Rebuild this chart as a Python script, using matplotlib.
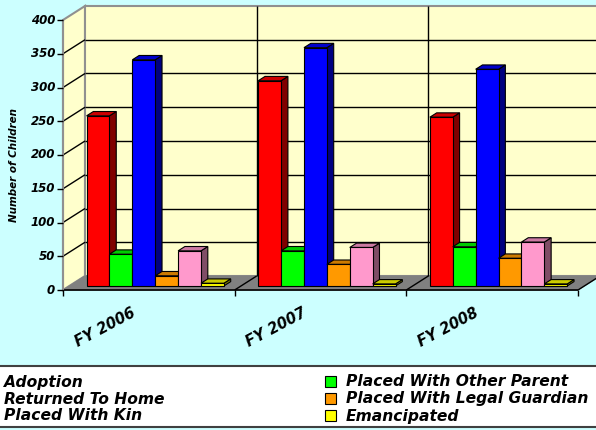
import numpy as np
import matplotlib
matplotlib.use("Agg")
import matplotlib.pyplot as plt
from matplotlib.patches import Polygon, Rectangle

# data
years = ["FY 2006", "FY 2007", "FY 2008"]
series = ["Adoption", "Placed With Other Parent", "Returned To Home",
          "Placed With Legal Guardian", "Placed With Kin", "Emancipated"]
adoption = [252, 304, 250]
other_parent = [47, 52, 58]
returned_home = [335, 353, 321]
legal_guardian = [15, 32, 41]
kin = [52, 57, 65]
emancipated = [4, 3, 3]
colors = ["#FF0000", "#00FF00", "#0000FF", "#FF9900", "#FF99CC", "#FFFF00"]
yticks = [0, 50, 100, 150, 200, 250, 300, 350, 400]

values = [adoption, other_parent, returned_home, legal_guardian, kin, emancipated]

W, H = 596, 430
fig = plt.figure(figsize=(W / 100, H / 100), dpi=100)
fig.patch.set_facecolor("#CCFFFF")

# front plane of the 3D box, in pixels: x 63..578, y 290..20
ax = fig.add_axes([63 / W, 140 / H, 515 / W, 270 / H])
ax.set_xlim(0, 3)
ax.set_ylim(0, 400)
ax.axis("off")

px_x = 515 / 3.0      # pixels per category
px_y = 270 / 400.0    # pixels per unit
DX = 22 / px_x        # depth offset
DY = 14 / px_y


def proj(x, v, d):
    return (x + d * DX, v + d * DY)


def poly(pts, fc, ec="black", lw=0.8, z=1):
    ax.add_patch(Polygon(pts, closed=True, facecolor=fc, edgecolor=ec,
                         linewidth=lw, clip_on=False, zorder=z))


def line(p, q, c="black", lw=1.0, z=2):
    ax.plot([p[0], q[0]], [p[1], q[1]], color=c, lw=lw, clip_on=False,
            zorder=z, solid_capstyle="butt")


top = yticks[-1]
# walls and floor
poly([proj(0, 0, 0), proj(0, top, 0), proj(0, top, 1), proj(0, 0, 1)],
     "#FFFFCC", ec="#909090", lw=1.5, z=1)
poly([proj(0, 0, 1), proj(3, 0, 1), proj(3, top, 1), proj(0, top, 1)],
     "#FFFFCC", ec="#909090", lw=1.5, z=1)
poly([proj(0, 0, 0), proj(3, 0, 0), proj(3, 0, 1), proj(0, 0, 1)],
     "#808080", ec="#808080", lw=0.8, z=2)

# gridlines
for v in yticks[1:-1]:
    line(proj(0, v, 0), proj(0, v, 1), lw=1.0, z=2)
    line(proj(0, v, 1), proj(3, v, 1), lw=1.0, z=2)
for c in [1, 2]:
    line(proj(c, 0, 1), proj(c, top, 1), lw=1.0, z=2)
for c in [1, 2, 3]:
    line(proj(c, 0, 0), proj(c, 0, 1), lw=1.0, z=3)

# axes lines and ticks
line((0, 0), (3, 0), lw=1.2, z=3)
line((0, 0), (0, top), c="#909090", lw=1.5, z=3)
tk = 6 / px_x
for v in yticks:
    line((-tk, v), (0, v), lw=1.0, z=3)
    ax.text(-tk - 2 / px_x, v, str(v), ha="right", va="center",
            fontsize=8.5, fontweight="bold", fontstyle="italic")
for c in [0, 1, 2, 3]:
    line((c, 0), (c, -6 / px_y), lw=1.0, z=3)

# bars
d0, d1 = 0.29, 0.60
g0, bw = 0.10, 0.80 / len(series)
z = 10
for ci in range(len(years)):
    for si in range(len(series)):
        h = values[si][ci]
        x0 = ci + g0 + si * bw
        x1 = x0 + bw
        base = np.array(matplotlib.colors.to_rgb(colors[si]))
        poly([proj(x1, 0, d0), proj(x1, 0, d1), proj(x1, h, d1), proj(x1, h, d0)],
             base * 0.5, z=z)
        poly([proj(x0, h, d0), proj(x1, h, d0), proj(x1, h, d1), proj(x0, h, d1)],
             base * 0.8, z=z)
        poly([proj(x0, 0, d0), proj(x1, 0, d0), proj(x1, h, d0), proj(x0, h, d0)],
             base, z=z)
        z += 1

# category labels
for ci, lab in enumerate(years):
    cx = 63 + (ci + 0.5) * px_x
    fig.text((cx - 44) / W, 1 - 327 / H, lab, rotation=28, ha="center",
             va="center", fontsize=10.5, fontweight="bold", fontstyle="italic")

fig.text(14 / W, 1 - 165 / H, "Number of Children", rotation=90, ha="center",
         va="center", fontsize=7.5, fontweight="bold", fontstyle="italic")

# legend box
fig.patches.append(Rectangle((-0.01, 3 / H), 1.02, (427 - 366) / H,
                             transform=fig.transFigure, facecolor="white",
                             edgecolor="#404040", linewidth=1.5))
rows = [381, 398, 415]
for i, name in enumerate(series):
    r = rows[i // 2]
    if i % 2 == 0:
        tx = 4
    else:
        fig.patches.append(Rectangle((325 / W, 1 - (r + 5.5) / H), 11 / W, 11 / H,
                                     transform=fig.transFigure,
                                     facecolor=colors[i], edgecolor="black",
                                     linewidth=0.8))
        tx = 346
    fig.text(tx / W, 1 - (r + 1) / H, name, ha="left", va="center", fontsize=11.2,
             fontweight="bold", fontstyle="italic")

fig.savefig("out.png", dpi=100, facecolor=fig.get_facecolor())
